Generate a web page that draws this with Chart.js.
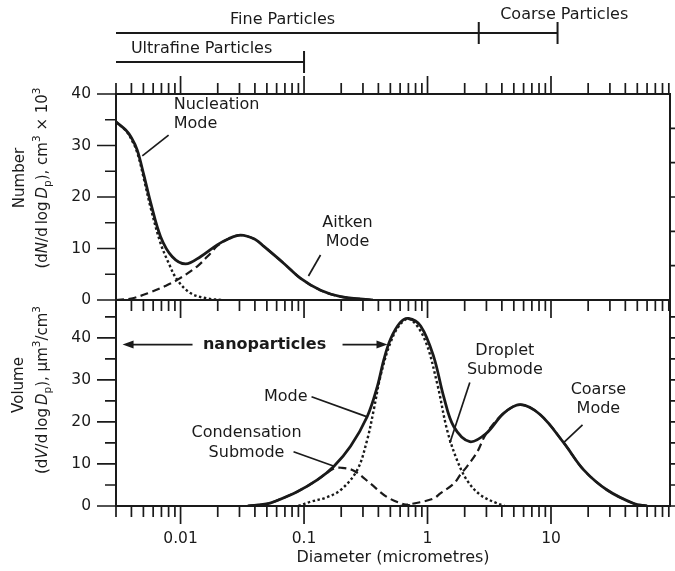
<!DOCTYPE html>
<html lang="en">
<head>
<meta charset="UTF-8">
<title>Aerosol size distribution</title>
<script src="https://cdn.jsdelivr.net/npm/chart.js@4.4.1/dist/chart.umd.min.js"></script>
<style>
  html, body { margin: 0; padding: 0; background: #fff; }
  #wrap { position: relative; width: 675px; height: 571px; }
  #wrap canvas { position: absolute; left: 0; top: 0; }
</style>
</head>
<body>
<div id="wrap">
  <canvas id="numberChart" width="675" height="571"></canvas>
  <canvas id="volumeChart" width="675" height="571"></canvas>
</div>
<script>
// ---- values (diameter in micrometres) ----
var xMin = 0.003, xMax = 92;
var xTickLabels = [0.01, 0.1, 1, 10];
var numberTicks = [0, 10, 20, 30, 40];
var volumeTicks = [0, 10, 20, 30, 40];

// number distribution, dN/dlogDp (cm^-3 x 10^3)
var totalND = [0.003, 0.0036, 0.004, 0.00446, 0.00505, 0.00571, 0.00689, 0.00857, 0.011, 0.0145, 0.0198, 0.0245, 0.0306, 0.04, 0.0473, 0.0687, 0.0938, 0.136, 0.198, 0.30, 0.36];
var totalN  = [34.6, 33.0, 31.5, 29.1, 24.2, 19.0, 12.3, 8.4, 7.0, 8.4, 10.7, 11.9, 12.6, 11.8, 10.4, 7.1, 4.2, 1.9, 0.65, 0.15, 0];
var nucleationD = [0.003, 0.0036, 0.004, 0.00446, 0.00505, 0.00571, 0.00689, 0.008, 0.0094, 0.0121, 0.0164, 0.022];
var nucleationN = [34.6, 32.9, 31.2, 28.6, 23.5, 18.0, 11.0, 7.2, 3.9, 1.3, 0.3, 0];
var aitkenD = [0.003, 0.004, 0.0057, 0.0075, 0.0094, 0.0136, 0.0175, 0.0198, 0.0245, 0.0306, 0.04, 0.0473, 0.0687, 0.0938, 0.136, 0.198, 0.30, 0.36];
var aitkenN = [0, 0.3, 1.5, 2.7, 3.9, 6.5, 9.1, 10.5, 11.9, 12.6, 11.8, 10.4, 7.1, 4.2, 1.9, 0.65, 0.15, 0];

// volume distribution, dV/dlogDp (um^3/cm^3)
var totalVD = [0.035, 0.05, 0.057, 0.088, 0.128, 0.174, 0.238, 0.325, 0.392, 0.443, 0.5, 0.6, 0.7, 0.88, 1.12, 1.35, 1.63, 2.2, 3.0, 4.15, 5.66, 8.2, 12.7, 18.4, 28.5, 46.8, 60];
var totalV  = [0, 0.5, 1.0, 3.4, 6.2, 9.4, 14.2, 21.3, 28.4, 34.8, 39.6, 43.6, 44.6, 42.8, 35.6, 26.1, 18.9, 15.3, 17.3, 22.1, 24.1, 21.7, 15.0, 8.6, 3.8, 0.6, 0];
var condensationD = [0.035, 0.05, 0.057, 0.088, 0.128, 0.174, 0.2, 0.253, 0.346, 0.472, 0.645, 0.8];
var condensationV = [0, 0.5, 1.0, 3.4, 6.2, 8.9, 9.1, 8.4, 5.3, 2.1, 0.4, 0];
var dropletD = [0.09, 0.113, 0.15, 0.198, 0.27, 0.325, 0.367, 0.416, 0.5, 0.6, 0.72, 0.95, 1.2, 1.44, 1.74, 2.1, 2.69, 3.67, 4.2];
var dropletV = [0, 1.0, 2.0, 3.8, 8.6, 15.8, 22.9, 30.9, 38.8, 43.2, 44.5, 39.6, 29.0, 18.1, 10.8, 6.0, 2.6, 0.6, 0];
var coarseD = [0.6, 0.87, 1.125, 1.27, 1.63, 1.85, 2.1, 2.52, 3.0, 4.15, 5.66, 8.2, 12.7, 18.4, 28.5, 46.8, 60];
var coarseV = [0, 0.9, 1.8, 3.0, 5.3, 7.5, 9.5, 12.8, 17.3, 22.1, 24.1, 21.7, 15.0, 8.6, 3.8, 0.6, 0];

// particle size classes shown above the plot
var classNames = ['Fine Particles', 'Ultrafine Particles', 'Coarse Particles'];
var classFrom  = [0.003, 0.003, 2.6];
var classTo    = [2.6, 0.1, 11.3];

// ---- look ----
var INK = '#1a1a1a';
var FAMILY = '"DejaVu Sans", sans-serif';

function curve(xs, ys, dash, width) {
  return {
    data: xs.map(function (x, i) { return { x: x, y: ys[i] }; }),
    showLine: true,
    borderColor: INK,
    borderWidth: width,
    borderDash: dash,
    borderCapStyle: 'butt',
    pointRadius: 0,
    fill: false,
    tension: 0.35
  };
}

function fixWidth(w) { return function (s) { s.width = w; }; }
function fixHeight(h) { return function (s) { s.height = h; }; }

function xTicks(scale) {
  var out = [];
  for (var e = -3; e <= 1; e++) {
    for (var m = 1; m <= 9; m++) {
      var v = m * Math.pow(10, e);
      if (v >= scale.min * 0.999 && v <= scale.max * 1.001) out.push({ v: v, major: m === 1 });
    }
  }
  return out;
}

function drawXTicks(ctx, scale, y, dir) {
  ctx.beginPath();
  xTicks(scale).forEach(function (t) {
    var px = scale.getPixelForValue(t.v);
    ctx.moveTo(px, y);
    ctx.lineTo(px, y + dir * (t.major ? 18 : 11));
  });
  ctx.stroke();
}

function drawYTicks(ctx, scale, x, step, majorStep, dir) {
  ctx.beginPath();
  for (var v = scale.min; v <= scale.max + 1e-6; v += step) {
    var py = scale.getPixelForValue(v);
    var major = Math.abs(v / majorStep - Math.round(v / majorStep)) < 1e-6;
    ctx.moveTo(x, py);
    ctx.lineTo(x + dir * (major ? 19 : 11), py);
  }
  ctx.stroke();
}

function drawRich(ctx, segs, cx, cy, size) {
  var total = 0;
  segs.forEach(function (s) {
    var fs = (s.sub || s.sup) ? size * 0.7 : size;
    s.font = (s.it ? 'italic ' : '') + fs + 'px ' + FAMILY;
    ctx.font = s.font;
    s.w = ctx.measureText(s.t).width;
    total += s.w;
  });
  var x = cx - total / 2;
  ctx.textAlign = 'left';
  ctx.textBaseline = 'middle';
  segs.forEach(function (s) {
    ctx.font = s.font;
    var dy = s.sub ? size * 0.32 : (s.sup ? -size * 0.38 : 0);
    ctx.fillText(s.t, x, cy + dy);
    x += s.w;
  });
}

function drawYTitle(ctx, x1, x2, cy1, cy2, word, segs) {
  ctx.save();
  ctx.fillStyle = INK;
  ctx.translate(x1, cy1);
  ctx.rotate(-Math.PI / 2);
  ctx.font = '15px ' + FAMILY;
  ctx.textAlign = 'center';
  ctx.textBaseline = 'middle';
  ctx.fillText(word, 0, 0);
  ctx.restore();
  ctx.save();
  ctx.fillStyle = INK;
  ctx.translate(x2, cy2);
  ctx.rotate(-Math.PI / 2);
  drawRich(ctx, segs, 0, 0, 15);
  ctx.restore();
}

function drawNotes(ctx, xs, ys, notes) {
  ctx.fillStyle = INK;
  ctx.strokeStyle = INK;
  notes.forEach(function (n) {
    ctx.font = (n.bold ? 'bold ' : '') + (n.size || 16) + 'px ' + FAMILY;
    ctx.textAlign = n.align || 'center';
    ctx.textBaseline = 'middle';
    var px = xs.getPixelForValue(n.d), py = ys.getPixelForValue(n.v);
    n.lines.forEach(function (t, i) { ctx.fillText(t, px, py + i * 19.5); });
    if (n.leader) {
      ctx.lineWidth = 1.7;
      ctx.beginPath();
      ctx.moveTo(xs.getPixelForValue(n.leader[0]), ys.getPixelForValue(n.leader[1]));
      ctx.lineTo(xs.getPixelForValue(n.leader[2]), ys.getPixelForValue(n.leader[3]));
      ctx.stroke();
    }
  });
}

function drawArrow(ctx, xs, ys, d1, d2, v) {
  var x1 = xs.getPixelForValue(d1), x2 = xs.getPixelForValue(d2), y = ys.getPixelForValue(v);
  var dir = x2 > x1 ? 1 : -1;
  ctx.lineWidth = 1.7;
  ctx.beginPath();
  ctx.moveTo(x1, y);
  ctx.lineTo(x2 - dir * 6, y);
  ctx.stroke();
  ctx.beginPath();
  ctx.moveTo(x2, y);
  ctx.lineTo(x2 - dir * 11, y - 4);
  ctx.lineTo(x2 - dir * 11, y + 4);
  ctx.closePath();
  ctx.fill();
}

// annotation positions in data coordinates (diameter, value)
var numberNotes = [
  { lines: ['Nucleation', 'Mode'], d: 0.0088, v: 37.9, align: 'left', leader: [0.0049, 28.0, 0.0080, 32.0] },
  { lines: ['Aitken', 'Mode'], d: 0.225, v: 15.0, leader: [0.1086, 4.66, 0.136, 8.74] }
];
var volumeNotes = [
  { lines: ['nanoparticles'], d: 0.0479, v: 38.4, bold: true, size: 16 },
  { lines: ['Mode'], d: 0.1067, v: 26.0, align: 'right', leader: [0.115, 26.0, 0.325, 21.2] },
  { lines: ['Condensation', 'Submode'], d: 0.0342, v: 17.4, leader: [0.0822, 12.9, 0.173, 9.5] },
  { lines: ['Droplet', 'Submode'], d: 4.23, v: 37.0, leader: [2.20, 29.4, 1.516, 15.0] },
  { lines: ['Coarse', 'Mode'], d: 24.2, v: 27.7, leader: [18.0, 19.3, 12.6, 15.0] }
];
var classLabelAt = [0.067, 0.0148, 12.8];

var numberPanel = {
  id: 'numberPanel',
  afterDraw: function (chart) {
    var ctx = chart.ctx, a = chart.chartArea, xs = chart.scales.x, ys = chart.scales.y;
    ctx.save();
    ctx.strokeStyle = INK;
    ctx.fillStyle = INK;
    ctx.lineWidth = 2;
    ctx.strokeRect(a.left, a.top, a.right - a.left, a.bottom - a.top);
    ctx.lineWidth = 1.7;
    drawXTicks(ctx, xs, a.top, -1);
    drawXTicks(ctx, xs, a.bottom, 1);
    drawYTicks(ctx, ys, a.left, 5, 10, -1);
    ctx.beginPath();
    for (var i = 1; i < 6; i++) {
      var py = ys.getPixelForValue(ys.max * i / 6);
      ctx.moveTo(a.right, py);
      ctx.lineTo(a.right + 6, py);
    }
    ctx.stroke();

    // size class bars
    var barY = [33, 62, 33];
    ctx.lineWidth = 2;
    classNames.forEach(function (name, k) {
      var x1 = xs.getPixelForValue(classFrom[k]), x2 = xs.getPixelForValue(classTo[k]);
      ctx.beginPath();
      ctx.moveTo(x1, barY[k]);
      ctx.lineTo(x2, barY[k]);
      ctx.moveTo(x2, barY[k] - 11);
      ctx.lineTo(x2, barY[k] + 11);
      ctx.stroke();
      ctx.font = '16px ' + FAMILY;
      ctx.textAlign = 'center';
      ctx.textBaseline = 'middle';
      ctx.fillText(name, xs.getPixelForValue(classLabelAt[k]), barY[k] - (k === 2 ? 18 : 13));
    });

    drawYTitle(ctx, 20, 43, 178, 178, 'Number', [
      { t: '(d' }, { t: 'N', it: true }, { t: '/d\u2009log\u2009' }, { t: 'D', it: true }, { t: 'p', sub: true },
      { t: '), cm' }, { t: '3', sup: true }, { t: ' \u00d7 10' }, { t: '3', sup: true }
    ]);
    drawNotes(ctx, xs, ys, numberNotes);
    ctx.restore();
  }
};

var volumePanel = {
  id: 'volumePanel',
  afterDraw: function (chart) {
    var ctx = chart.ctx, a = chart.chartArea, xs = chart.scales.x, ys = chart.scales.y;
    ctx.save();
    ctx.strokeStyle = INK;
    ctx.fillStyle = INK;
    ctx.lineWidth = 2;
    ctx.strokeRect(a.left, a.top, a.right - a.left, a.bottom - a.top);
    ctx.lineWidth = 1.7;
    drawXTicks(ctx, xs, a.bottom, 1);
    drawYTicks(ctx, ys, a.left, 5, 10, -1);
    drawYTicks(ctx, ys, a.right, 5, 1000, 1);
    drawYTitle(ctx, 19, 43, 385, 390, 'Volume', [
      { t: '(d' }, { t: 'V', it: true }, { t: '/d\u2009log\u2009' }, { t: 'D', it: true }, { t: 'p', sub: true },
      { t: '), \u00b5m' }, { t: '3', sup: true }, { t: '/cm' }, { t: '3', sup: true }
    ]);
    drawNotes(ctx, xs, ys, volumeNotes);
    drawArrow(ctx, xs, ys, 0.0125, 0.00339, 38.4);
    drawArrow(ctx, xs, ys, 0.205, 0.474, 38.4);
    ctx.restore();
  }
};

var tickFont = { family: FAMILY, size: 15.5 };

new Chart(document.getElementById('numberChart'), {
  type: 'scatter',
  data: { datasets: [
    curve(totalND, totalN, [], 2.8),
    curve(nucleationD, nucleationN, [2.5, 2.5], 2.4),
    curve(aitkenD, aitkenN, [8, 4.5], 2.2)
  ] },
  options: {
    responsive: false, animation: false, devicePixelRatio: 1,
    layout: { padding: { top: 94, bottom: 271, left: 0, right: 5 } },
    plugins: { legend: { display: false }, tooltip: { enabled: false } },
    scales: {
      x: { type: 'logarithmic', min: xMin, max: xMax, display: false },
      y: {
        min: 0, max: 40,
        afterFit: fixWidth(116),
        afterBuildTicks: function (s) { s.ticks = numberTicks.map(function (v) { return { value: v }; }); },
        grid: { display: false, drawTicks: false }, border: { display: false },
        ticks: { padding: 25, color: INK, font: tickFont }
      }
    }
  },
  plugins: [numberPanel]
});

new Chart(document.getElementById('volumeChart'), {
  type: 'scatter',
  data: { datasets: [
    curve(totalVD, totalV, [], 2.8),
    curve(condensationD, condensationV, [8, 4.5], 2.2),
    curve(dropletD, dropletV, [2.5, 2.5], 2.4),
    curve(coarseD, coarseV, [8, 4.5], 2.2)
  ] },
  options: {
    responsive: false, animation: false, devicePixelRatio: 1,
    layout: { padding: { top: 300, bottom: 4, left: 0, right: 5 } },
    plugins: { legend: { display: false }, tooltip: { enabled: false } },
    scales: {
      x: {
        type: 'logarithmic', min: xMin, max: xMax,
        afterFit: fixHeight(61),
        afterBuildTicks: function (s) { s.ticks = xTickLabels.map(function (v) { return { value: v }; }); },
        grid: { display: false, drawTicks: false }, border: { display: false },
        ticks: { padding: 24, color: INK, font: tickFont, maxRotation: 0, autoSkip: false,
                 callback: function (v) { return String(v); } },
        title: { display: true, text: 'Diameter (micrometres)', color: INK, font: { family: FAMILY, size: 16 }, padding: 0 }
      },
      y: {
        min: 0, max: 49,
        afterFit: fixWidth(116),
        afterBuildTicks: function (s) { s.ticks = volumeTicks.map(function (v) { return { value: v }; }); },
        grid: { display: false, drawTicks: false }, border: { display: false },
        ticks: { padding: 25, color: INK, font: tickFont }
      }
    }
  },
  plugins: [volumePanel]
});
</script>
</body>
</html>
